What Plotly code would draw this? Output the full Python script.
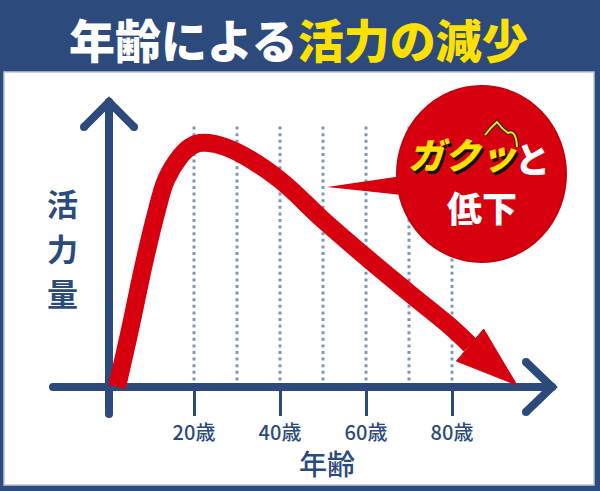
import plotly.graph_objects as go

# ---------------- data ----------------
ages = [2.1, 5.1, 8.4, 11.2, 13.5, 16.7, 19.1, 21.4, 24.9, 30, 40, 50, 60, 70, 80, 84.2]
vitality = [0, 23.3, 50.6, 71.0, 84.5, 93.9, 98.0, 99.6, 99.2, 95.9, 84.5, 68.2, 53.0, 38.4, 24.1, 17.1]
arrow_tip_age = 95.1
arrow_tip_vitality = 0.8

tick_ages = [20, 40, 60, 80]
tick_labels = ["20歳", "40歳", "60歳", "80歳"]
grid_ages = [20, 30, 40, 50, 60, 70, 80]

title_white = "年齢による"
title_yellow = "活力の減少"
x_title = "年齢"
y_title_chars = ["活", "力", "量"]
callout_emph = "ガクッ"
callout_to = "と"
callout_line2 = "低下"

# ---------------- geometry ----------------
W, H = 600, 491
X0, SX = 108.0, 4.3      # px of age 0, px per year
Y0, SY = 387.0, 2.45     # px of vitality 0, px per unit

NAVY = "#2c4a7c"
RED = "#d6000f"
YELLOW = "#ffe100"
DOT = "#8496b6"
FONT = "Noto Sans CJK JP"


def dx(px):
    return (px - X0) / SX


def dy(py):
    return (Y0 - py) / SY


def to_px(a, v):
    return X0 + a * SX, Y0 - v * SY


def pxx(px):
    return px / W


def pxy(py):
    return 1 - py / H


fig = go.Figure()

# axes (drawn as thick lines with round ends)
def thick(xs_px, ys_px):
    fig.add_trace(go.Scatter(
        x=[dx(p) for p in xs_px], y=[dy(p) for p in ys_px],
        mode="lines+markers", line=dict(color=NAVY, width=8),
        marker=dict(color=NAVY, size=8), hoverinfo="skip", showlegend=False))

thick([53, 552], [387, 387])
thick([526, 552, 526], [362, 387, 412])
thick([109, 109], [414, 102])
thick([84, 109, 134], [127, 102, 127])

# red curve
fig.add_trace(go.Scatter(
    x=ages, y=vitality, mode="lines",
    line=dict(color=RED, width=18, shape="spline", smoothing=1.0),
    hoverinfo="skip", showlegend=False))

# arrow head computed from the curve end and the tip
bx, by = to_px(ages[-1], vitality[-1])
tx, ty = to_px(arrow_tip_age, arrow_tip_vitality)
L = ((tx - bx) ** 2 + (ty - by) ** 2) ** 0.5
ux, uy = (tx - bx) / L, (ty - by) / L
nx, ny = uy, -ux
hw = 21
hx = [bx + nx * hw, tx, bx - nx * hw, bx + nx * hw]
hy = [by + ny * hw, ty, by - ny * hw, by + ny * hw]
fig.add_trace(go.Scatter(
    x=[dx(p) for p in hx], y=[dy(p) for p in hy], mode="lines",
    fill="toself", fillcolor=RED, line=dict(color=RED, width=1),
    hoverinfo="skip", showlegend=False))

shapes = []
# white panel
shapes.append(dict(type="rect", xref="paper", yref="paper",
                   x0=pxx(4), x1=pxx(594), y0=pxy(485), y1=pxy(72),
                   fillcolor="white", line=dict(color="#b9c7dc", width=1.5),
                   layer="below"))
# dotted guide lines
for a in grid_ages:
    shapes.append(dict(type="line", xref="x", yref="y", x0=a, x1=a,
                       y0=0, y1=dy(125), line=dict(color=DOT, width=3, dash="3px,3.6px"),
                       layer="below"))

# callout bubble
def P(px, py):
    return f"{pxx(px):.5f},{pxy(py):.5f}"

shapes.append(dict(type="path", xref="paper", yref="paper",
                   path=f"M {P(327,187)} L {P(402,176)} L {P(402,195)} Z",
                   fillcolor=RED, line=dict(width=0)))
shapes.append(dict(type="circle", xref="paper", yref="paper",
                   x0=pxx(397), x1=pxx(566), y0=pxy(262), y1=pxy(86),
                   fillcolor=RED, line=dict(color="#c4000d", width=2)))
# small emphasis mark above ッ
mark = f"M {P(485,135)} Q {P(491,127)} {P(497,122)} Q {P(502,129)} {P(508,133)} Q {P(516,129)} {P(517,147)}"
shapes.append(dict(type="path", xref="paper", yref="paper", path=mark,
                   line=dict(color="#222222", width=4)))
shapes.append(dict(type="path", xref="paper", yref="paper", path=mark,
                   line=dict(color=YELLOW, width=2)))

annotations = []
# title
annotations.append(dict(
    xref="paper", yref="paper", x=pxx(298), y=pxy(38), showarrow=False,
    text=f'{title_white}<span style="color:{YELLOW}">{title_yellow}</span>',
    font=dict(family=FONT, size=46, color="white", weight=900),
    xanchor="center", yanchor="middle"))
# x title
annotations.append(dict(
    xref="paper", yref="paper", x=pxx(327), y=pxy(463), showarrow=False,
    text=x_title, font=dict(family=FONT, size=28, color=NAVY, weight=500),
    xanchor="center", yanchor="middle"))
# y title (stacked characters)
for i, ch in enumerate(y_title_chars):
    annotations.append(dict(
        xref="paper", yref="paper", x=pxx(62), y=pxy(202 + 45 * i), showarrow=False,
        text=ch, font=dict(family=FONT, size=31, color=NAVY, weight=600),
        xanchor="center", yanchor="middle"))
# callout text
annotations.append(dict(
    xref="paper", yref="paper", x=pxx(462), y=pxy(153), showarrow=False,
    text=callout_emph,
    font=dict(family=FONT, size=36, color=YELLOW, weight=900, style="italic",
              shadow="2px 3px 0px #111111"),
    xanchor="center", yanchor="middle"))
annotations.append(dict(
    xref="paper", yref="paper", x=pxx(532), y=pxy(157), showarrow=False,
    text=callout_to, font=dict(family=FONT, size=35, color="white", weight=900),
    xanchor="center", yanchor="middle"))
annotations.append(dict(
    xref="paper", yref="paper", x=pxx(482), y=pxy(206), showarrow=False,
    text=callout_line2, font=dict(family=FONT, size=35, color="white", weight=900),
    xanchor="center", yanchor="middle"))

fig.update_layout(
    width=W, height=H,
    margin=dict(l=0, r=0, t=0, b=0),
    paper_bgcolor=NAVY, plot_bgcolor=NAVY,
    showlegend=False,
    shapes=shapes, annotations=annotations,
    xaxis=dict(range=[dx(0), dx(W)], showgrid=False, zeroline=False, showline=False,
               anchor="free", position=(H - Y0) / H,
               tickmode="array", tickvals=tick_ages, ticktext=tick_labels,
               ticks="outside", ticklen=28, tickwidth=3, tickcolor=NAVY,
               tickfont=dict(family=FONT, size=20, color=NAVY, weight=500), fixedrange=True),
    yaxis=dict(range=[dy(H), dy(0)], visible=False, fixedrange=True),
)

fig.write_html("out.html", config={"displayModeBar": False},
               post_script="document.body.style.margin='0';document.body.style.overflow='hidden';")
